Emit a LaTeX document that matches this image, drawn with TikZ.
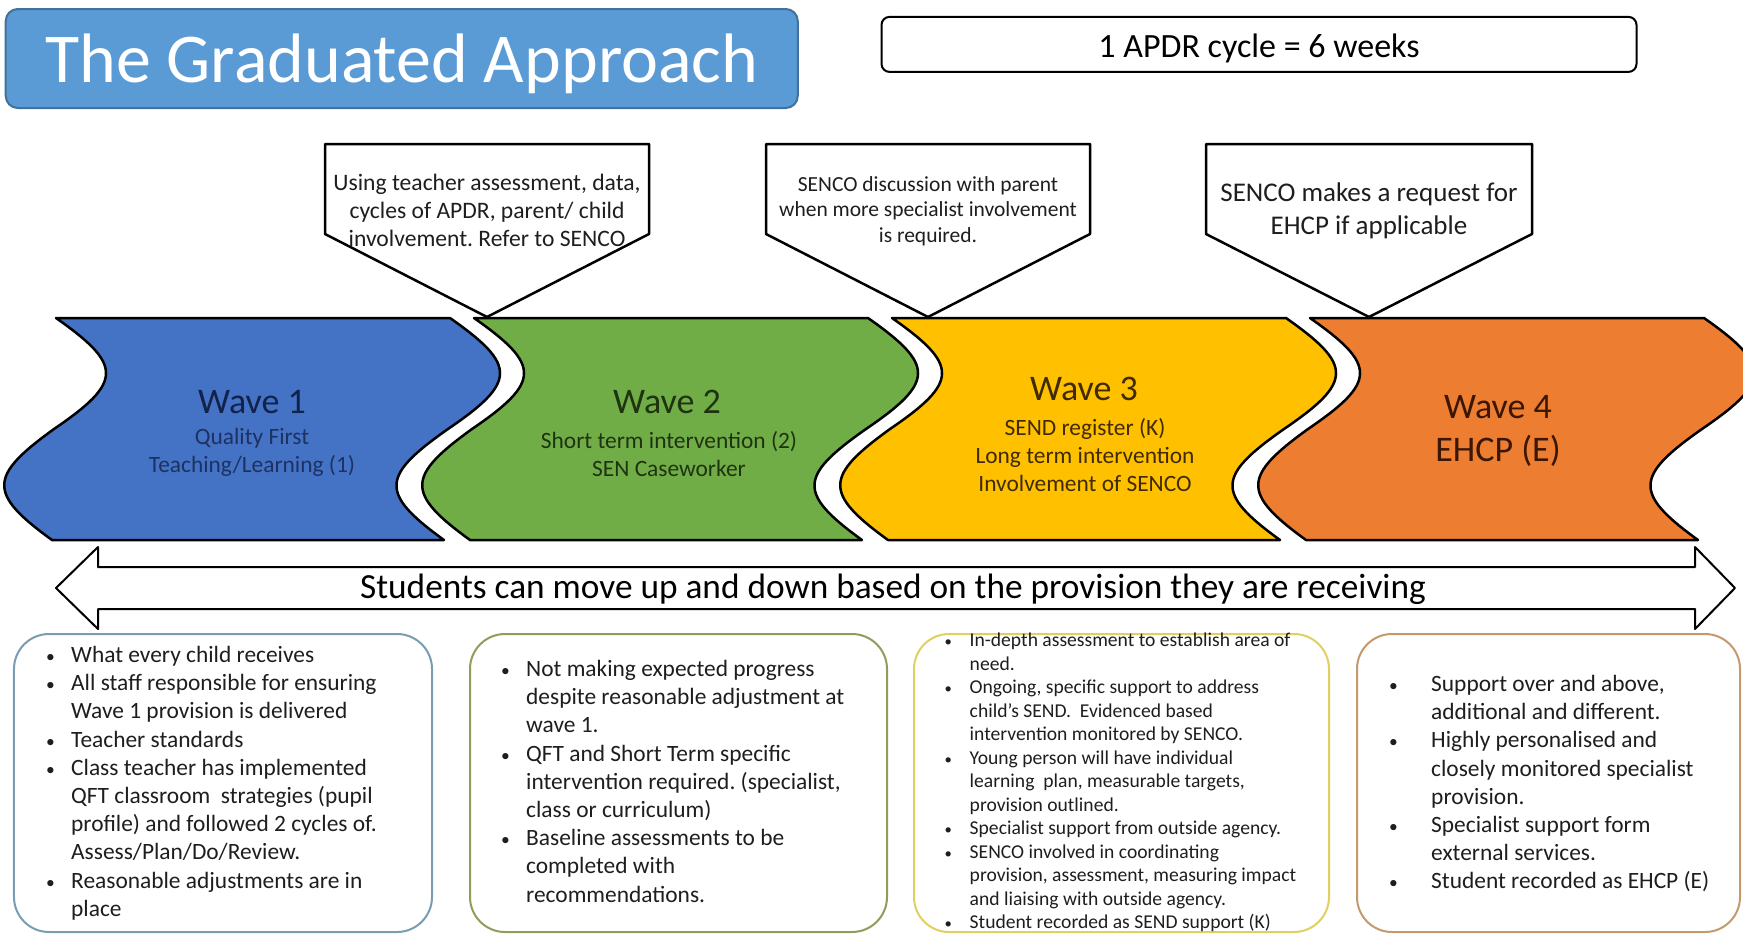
\documentclass[tikz,border=0pt]{standalone}
\usepackage{fontspec}
\setmainfont{Carlito}
\frenchspacing
\definecolor{titleblue}{HTML}{5B9BD5}
\definecolor{titleedge}{HTML}{41719C}
\definecolor{waveblue}{HTML}{4472C4}
\definecolor{wavegreen}{HTML}{70AD47}
\definecolor{wavegold}{HTML}{FFC000}
\definecolor{waveorange}{HTML}{ED7D31}
\definecolor{inkblue}{HTML}{13224A}
\definecolor{inkgreen}{HTML}{1E3310}
\definecolor{inkgold}{HTML}{402A00}
\definecolor{inkorange}{HTML}{3A1604}
\definecolor{edgeone}{HTML}{7A9CB0}
\definecolor{edgetwo}{HTML}{8E9E5A}
\definecolor{edgethree}{HTML}{E0D060}
\definecolor{edgefour}{HTML}{C49A6C}
\definecolor{bodytext}{HTML}{1E1E1E}
\newlength\bulgap
\setlength\bulgap{26bp}
\newcommand{\fsz}[2]{\fontsize{#1bp}{#2bp}\selectfont}
\newcommand{\bitem}{\makebox[\bulgap][l]{\hspace*{1bp}\scalebox{0.75}{\textbullet}}}
\newcommand{\bcont}{\hspace*{\bulgap}}
\begin{document}
\begin{tikzpicture}[x=1bp,y=-1bp,line join=round,
  wavebox/.style={draw=black,line width=2.5bp},
  notebox/.style={draw=black,fill=white,line width=2.5bp},
  listbox/.style={draw=#1,fill=white,line width=2bp,rounded corners=35bp,minimum height=298bp},
  listtext/.style={anchor=north west,inner sep=0pt,align=left,text=bodytext},
  wavetitle/.style={font=\fsz{36}{43}},
  wavesub/.style={align=center,font=\fsz{23.4}{28}}]
\useasboundingbox (0,0) rectangle (1743,940);
%%
\node (title) at (401.75,58.5) [draw=titleedge,fill=titleblue,line width=2bp,rounded corners=12bp,minimum width=792bp,minimum height=99bp,text height=52bp,text depth=4bp,text=white,font=\fsz{70}{84}] {The Graduated Approach};
\node (cycle) at (1259,44.4) [draw=black,line width=2bp,rounded corners=8bp,minimum width=755bp,minimum height=55bp,text height=29bp,text depth=3bp,font=\fsz{34}{40}] {1 APDR cycle = 6 weeks};
%% waves
\draw [wavebox,fill=waveblue] (56,318) -- (450,318) .. controls (517,365) and (517,382) .. (448,429) .. controls (381,476) and (379,493) .. (444,540) -- (52,540) .. controls (-13,493) and (-11,476) .. (54,429) .. controls (123,382) and (123,365) .. (56,318) -- cycle;
\draw [wavebox,fill=wavegreen] (474,318) -- (868,318) .. controls (935,365) and (935,382) .. (866,429) .. controls (799,476) and (797,493) .. (862,540) -- (470,540) .. controls (405,493) and (407,476) .. (472,429) .. controls (541,382) and (541,365) .. (474,318) -- cycle;
\draw [wavebox,fill=wavegold] (892,318) -- (1286,318) .. controls (1353,365) and (1353,382) .. (1284,429) .. controls (1217,476) and (1215,493) .. (1280,540) -- (888,540) .. controls (823,493) and (825,476) .. (890,429) .. controls (959,382) and (959,365) .. (892,318) -- cycle;
\draw [wavebox,fill=waveorange] (1310,318) -- (1704,318) .. controls (1771,365) and (1771,382) .. (1702,429) .. controls (1635,476) and (1633,493) .. (1698,540) -- (1306,540) .. controls (1241,493) and (1243,476) .. (1308,429) .. controls (1377,382) and (1377,365) .. (1310,318) -- cycle;
\node (wave1) at (252,402) [wavetitle,text=inkblue] {Wave 1};
\node (wave1sub) at (252,452) [wavesub,text=inkblue!80!waveblue] {Quality First\\Teaching/Learning (1)};
\node (wave2) at (667,402) [wavetitle,text=inkgreen] {Wave 2};
\node (wave2sub) at (669,454) [wavesub,text=inkgreen] {Short term intervention (2)\\SEN Caseworker};
\node (wave3) at (1084,389) [wavetitle,text=inkgold] {Wave 3};
\node (wave3sub) at (1085,455) [wavesub,text=inkgold] {SEND register (K)\\Long term intervention\\Involvement of SENCO};
\node (wave4) at (1498,431) [wavetitle,align=center,text=inkorange] {Wave 4\\EHCP (E)};
%% callouts
\draw [notebox] (325,144) -- (649,144) -- (649,234) -- (487,317) -- (325,234) -- cycle;
\draw [notebox] (766,144) -- (1090,144) -- (1090,234) -- (928,317) -- (766,234) -- cycle;
\draw [notebox] (1206,144) -- (1532,144) -- (1532,234) -- (1369,317) -- (1206,234) -- cycle;
\node (note1) at (487,210) [align=center,text=bodytext,font=\fsz{23.6}{28}] {Using teacher assessment, data,\\cycles of APDR, parent/ child\\involvement. Refer to SENCO};
\node (note2) at (928,211) [align=center,text=bodytext,font=\fsz{21.5}{25.6}] {SENCO discussion with parent\\when more specialist involvement\\is required.};
\node (note3) at (1369,211) [align=center,text=bodytext,font=\fsz{27}{33}] {SENCO makes a request for\\EHCP if applicable};
%% two-way arrow
\draw [notebox,line width=2bp] (56,588) -- (98,547) -- (98,567) -- (1695,567) -- (1695,547) -- (1735,588) -- (1695,629) -- (1695,609) -- (98,609) -- (98,629) -- cycle;
\node (move) at (893,589) [font=\fsz{35.3}{42}] {Students can move up and down based on the provision they are receiving};
%% lists
\node (box1) at (223,783) [listbox=edgeone,minimum width=418bp] {};
\node (box2) at (678.5,783) [listbox=edgetwo,minimum width=417bp] {};
\node (box3) at (1121.5,783) [listbox=edgethree,minimum width=415bp] {};
\node (box4) at (1548.5,783) [listbox=edgefour,minimum width=383bp] {};
\node (list1) at (45,646) [listtext,font=\fsz{23.4}{28.2}] {\bitem What every child receives\\
  \bitem All staff responsible for ensuring\\ \bcont Wave 1 provision is delivered\\
  \bitem Teacher standards\\
  \bitem Class teacher has implemented\\ \bcont QFT classroom\ \ strategies (pupil\\ \bcont profile) and followed 2 cycles of.\\ \bcont Assess/Plan/Do/Review.\\
  \bitem Reasonable adjustments are in\\ \bcont place};
\node (list2) at (500,660) [listtext,font=\fsz{23.4}{28.2}] {\bitem Not making expected progress\\ \bcont despite reasonable adjustment at\\ \bcont wave 1.\\
  \bitem QFT and Short Term specific\\ \bcont intervention required. (specialist,\\ \bcont class or curriculum)\\
  \bitem Baseline assessments to be\\ \bcont completed with\\ \bcont recommendations.};
\node (list3) at (943.5,633) [listtext,font=\fsz{19.6}{23.5}] {\bitem In-depth assessment to establish area of\\ \bcont need.\\
  \bitem Ongoing, specific support to address\\ \bcont child’s SEND.\ \ Evidenced based\\ \bcont intervention monitored by SENCO.\\
  \bitem Young person will have individual\\ \bcont learning\ \ plan, measurable targets,\\ \bcont provision outlined.\\
  \bitem Specialist support from outside agency.\\
  \bitem SENCO involved in coordinating\\ \bcont provision, assessment, measuring impact\\ \bcont and liaising with outside agency.\\
  \bitem Student recorded as SEND support (K)};
\node (list4) at (1388,675) [listtext,font=\fsz{23.4}{28.2}\setlength\bulgap{43bp}] {\bitem Support over and above,\\ \bcont additional and different.\\
  \bitem Highly personalised and\\ \bcont closely monitored specialist\\ \bcont provision.\\
  \bitem Specialist support form\\ \bcont external services.\\
  \bitem Student recorded as EHCP (E)};
%
\end{tikzpicture}
\end{document}
